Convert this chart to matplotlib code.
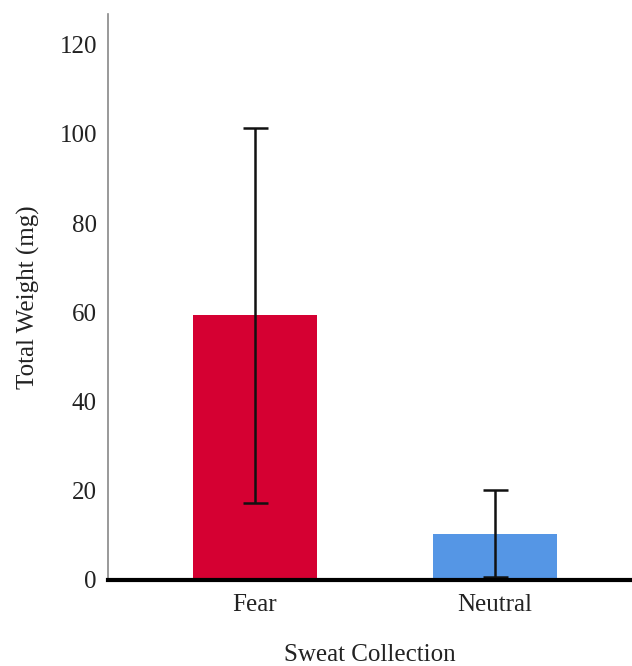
import matplotlib.pyplot as plt

# data
groups = ['Fear', 'Neutral']
weights = [59.4, 10.3]
err_low = [17.3, 0.7]
err_high = [101.3, 20.2]
bar_colors = ['#D50032', '#5596E5']

plt.rcParams['font.family'] = ['Liberation Serif', 'DejaVu Serif']

fig = plt.figure(figsize=(6.32, 6.66), dpi=100)
ax = fig.add_axes([108/632, 1 - 580/666, 1 - 108/632, (580 - 14)/666])

x = list(range(len(groups)))
yerr = [[w - lo for w, lo in zip(weights, err_low)],
        [hi - w for w, hi in zip(weights, err_high)]]

ax.bar(x, weights, width=0.517, color=bar_colors, zorder=2)
ax.errorbar(x, weights, yerr=yerr, fmt='none', ecolor='#111111',
            elinewidth=1.8, capsize=9, capthick=1.8, zorder=3)

ax.set_xlim(-0.6125, 1.571)
ax.set_ylim(0, 126.9)
ax.set_yticks([0, 20, 40, 60, 80, 100, 120])
ax.set_xticks(x)
ax.set_xticklabels(groups)

for s in ['top', 'right']:
    ax.spines[s].set_visible(False)
ax.spines['left'].set_color('#888888')
ax.spines['left'].set_linewidth(1.2)
ax.spines['bottom'].set_color('black')
ax.spines['bottom'].set_linewidth(3)
ax.spines['bottom'].set_zorder(4)

ax.tick_params(axis='both', length=0, labelsize=18, colors='#222222')
ax.tick_params(axis='y', pad=8)
ax.tick_params(axis='x', pad=10)

ax.set_ylabel('Total Weight (mg)', fontsize=18, color='#222222', labelpad=14)
ax.set_xlabel('Sweat Collection', fontsize=18, color='#222222', labelpad=20)

fig.savefig('out.png', dpi=100)
